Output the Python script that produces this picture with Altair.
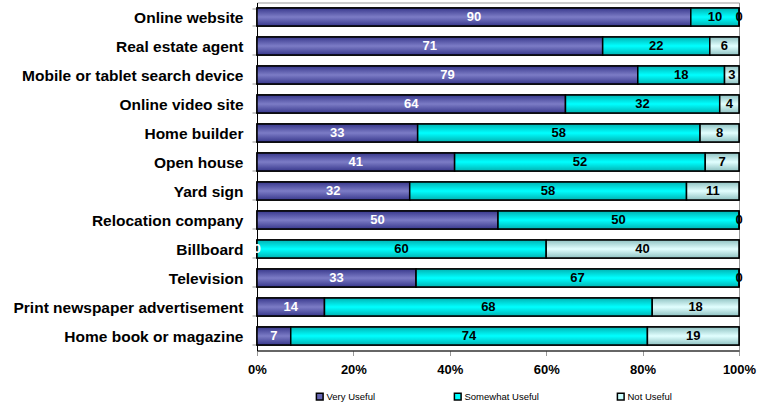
import altair as alt
import pandas as pd

categories = [
    "Online website",
    "Real estate agent",
    "Mobile or tablet search device",
    "Online video site",
    "Home builder",
    "Open house",
    "Yard sign",
    "Relocation company",
    "Billboard",
    "Television",
    "Print newspaper advertisement",
    "Home book or magazine",
]
very_useful = [90, 71, 79, 64, 33, 41, 32, 50, 0, 33, 14, 7]
somewhat_useful = [10, 22, 18, 32, 58, 52, 58, 50, 60, 67, 68, 74]
not_useful = [0, 6, 3, 4, 8, 7, 11, 0, 40, 0, 18, 19]
series = ["Very Useful", "Somewhat Useful", "Not Useful"]
x_ticks = [0, 0.2, 0.4, 0.6, 0.8, 1.0]

flat_colors = ["#6666B3", "#00FFFF", "#CCFFFF"]
grad_stops = {
    "Very Useful": ["#38388C", "#7C7CC6", "#38388C"],
    "Somewhat Useful": ["#00B3B3", "#00FFFF", "#00B3B3"],
    "Not Useful": ["#8FC2C2", "#E2FFFF", "#8FC2C2"],
}

rows = []
for i, c in enumerate(categories):
    for j, (s, v) in enumerate(zip(series, [very_useful[i], somewhat_useful[i], not_useful[i]])):
        rows.append({"cat": c, "series": s, "order": j, "value": v})
df = pd.DataFrame(rows)

FONT = "Liberation Sans"

base = alt.Chart(df).transform_stack(
    stack="value", groupby=["cat"], as_=["x0", "x1"], offset="normalize",
    sort=[alt.SortField("order", order="ascending")],
).transform_calculate(mid="(datum.x0 + datum.x1) / 2")

y_enc = alt.Y(
    "cat:N", sort=categories, title=None,
    scale=alt.Scale(paddingInner=0.38, paddingOuter=0.19),
    axis=alt.Axis(
        labelFont=FONT, labelFontSize=15.5, labelFontWeight="bold", labelColor="black",
        labelPadding=9, tickSize=5, tickColor="#999999", tickBand="extent",
        domainColor="black", domainWidth=1, labelLimit=300,
    ),
)
x_scale = alt.Scale(domain=[0, 1], nice=False)
x_enc = alt.X(
    "x0:Q", scale=x_scale, title=None,
    axis=alt.Axis(
        format=".0%", values=x_ticks, grid=False,
        labelFont=FONT, labelFontSize=13, labelFontWeight="bold", labelColor="black",
        labelPadding=8, tickSize=5, tickColor="#999999", domainColor="black",
        labelFlush=False,
    ),
)

legend_layer = base.mark_bar(stroke="black", strokeWidth=1.5).encode(
    y=y_enc,
    x=x_enc,
    x2="x1:Q",
    color=alt.Color(
        "series:N",
        scale=alt.Scale(domain=series, range=flat_colors),
        sort=series,
        legend=alt.Legend(
            title=None, orient="none", direction="horizontal",
            legendX=58, legendY=389, columnPadding=75,
            symbolType="square", symbolSize=45, symbolStrokeColor="black",
            symbolStrokeWidth=1.5, symbolOpacity=1,
            labelFont=FONT, labelFontSize=9.5, labelColor="black", labelOffset=2,
        ),
    ),
)

layers = [legend_layer]
for s in series:
    st = grad_stops[s]
    layers.append(
        base.transform_filter(alt.datum.series == s).mark_bar(
            stroke="black", strokeWidth=1.5,
            color=alt.Gradient(
                gradient="linear", x1=0, x2=0, y1=0, y2=1,
                stops=[
                    alt.GradientStop(color=st[0], offset=0),
                    alt.GradientStop(color=st[1], offset=0.5),
                    alt.GradientStop(color=st[2], offset=1),
                ],
            ),
        ).encode(y=alt.Y("cat:N", sort=categories), x=alt.X("x0:Q", scale=x_scale), x2="x1:Q")
    )

text_layer = base.mark_text(font=FONT, fontSize=13, fontWeight="bold").encode(
    y=alt.Y("cat:N", sort=categories),
    x=alt.X("mid:Q", scale=x_scale),
    text="value:Q",
    color=alt.condition(alt.datum.series == "Very Useful", alt.value("white"), alt.value("black")),
)
layers.append(text_layer)

chart = alt.layer(*layers).properties(
    width=482, height=348,
    autosize=alt.AutoSizeParams(type="none"),
    padding={"left": 257, "top": 2.5, "right": 33, "bottom": 57.5},
    background="white",
).configure_view(stroke="#999999", strokeWidth=1)

chart.save("out.html", embed_options={"renderer": "svg", "actions": False})
